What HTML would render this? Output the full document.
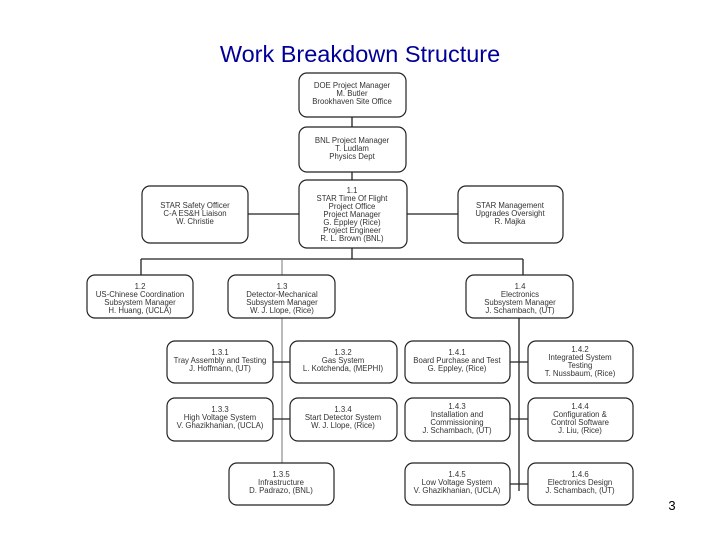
<!DOCTYPE html>
<html><head><meta charset="utf-8"><style>
html,body{margin:0;padding:0;background:#fff;}
svg{display:block;}
text{font-family:"Liberation Sans",sans-serif;}
.b{fill:#fff;stroke:#222;stroke-width:1.2;}
.l{stroke:#222;stroke-width:1.3;fill:none;}
.t{font-size:7.8px;fill:#333;text-anchor:middle;}
</style></head><body>
<svg width="720" height="540" viewBox="0 0 720 540">
<text x="360" y="62" style="font-size:23.5px;fill:#000099;text-anchor:middle">Work Breakdown Structure</text>
<text x="672" y="510" style="font-size:13px;fill:#000;text-anchor:middle">3</text>
<path class="l" d="M352 117V127M352 172V180M248 214H299M407 214H458M352 248V259M141 259H523M141 259V275M523 259V275"/>
<path class="l" style="stroke:#777;stroke-width:1" d="M282 259V275M282 318V463"/>
<path class="l" d="M273 362H290M273 419H290M519 318V491M510 362H528M510 419H528M510 484H528"/>
<g>
<rect class="b" x="299" y="73" width="107" height="44" rx="8"/>
<text class="t"><tspan x="352" y="88">DOE Project Manager</tspan><tspan x="352" y="96">M. Butler</tspan><tspan x="352" y="104">Brookhaven Site Office</tspan></text>
<rect class="b" x="299" y="127" width="107" height="45" rx="8"/>
<text class="t"><tspan x="352" y="143">BNL Project Manager</tspan><tspan x="352" y="151">T. Ludlam</tspan><tspan x="352" y="159">Physics Dept</tspan></text>
<rect class="b" x="299" y="180" width="108" height="68" rx="8"/>
<text class="t"><tspan x="352" y="193">1.1</tspan><tspan x="352" y="201">STAR Time Of Flight</tspan><tspan x="352" y="209">Project Office</tspan><tspan x="352" y="217">Project Manager</tspan><tspan x="352" y="225">G. Eppley (Rice)</tspan><tspan x="352" y="233">Project Engineer</tspan><tspan x="352" y="241">R. L. Brown (BNL)</tspan></text>
<rect class="b" x="142" y="186" width="106" height="57" rx="8"/>
<text class="t"><tspan x="195" y="208">STAR Safety Officer</tspan><tspan x="195" y="216">C-A ES&amp;H Liaison</tspan><tspan x="195" y="224">W. Christie</tspan></text>
<rect class="b" x="458" y="186" width="105" height="57" rx="8"/>
<text class="t"><tspan x="510" y="208">STAR Management</tspan><tspan x="510" y="216">Upgrades Oversight</tspan><tspan x="510" y="224">R. Majka</tspan></text>
<rect class="b" x="87" y="275" width="106" height="43" rx="8"/>
<text class="t"><tspan x="140" y="289">1.2</tspan><tspan x="140" y="297">US-Chinese Coordination</tspan><tspan x="140" y="305">Subsystem Manager</tspan><tspan x="140" y="313">H. Huang, (UCLA)</tspan></text>
<rect class="b" x="228" y="275" width="107" height="43" rx="8"/>
<text class="t"><tspan x="282" y="289">1.3</tspan><tspan x="282" y="297">Detector-Mechanical</tspan><tspan x="282" y="305">Subsystem Manager</tspan><tspan x="282" y="313">W. J. Llope, (Rice)</tspan></text>
<rect class="b" x="466" y="275" width="107" height="43" rx="8"/>
<text class="t"><tspan x="520" y="289">1.4</tspan><tspan x="520" y="297">Electronics</tspan><tspan x="520" y="305">Subsystem Manager</tspan><tspan x="520" y="313">J. Schambach, (UT)</tspan></text>

<rect class="b" x="167" y="341" width="106" height="42" rx="8"/>
<text class="t"><tspan x="220" y="355">1.3.1</tspan><tspan x="220" y="363">Tray Assembly and Testing</tspan><tspan x="220" y="371">J. Hoffmann, (UT)</tspan></text>
<rect class="b" x="290" y="341" width="107" height="42" rx="8"/>
<text class="t"><tspan x="343" y="355">1.3.2</tspan><tspan x="343" y="363">Gas System</tspan><tspan x="343" y="371">L. Kotchenda, (MEPHI)</tspan></text>
<rect class="b" x="405" y="341" width="105" height="42" rx="8"/>
<text class="t"><tspan x="457" y="355">1.4.1</tspan><tspan x="457" y="363">Board Purchase and Test</tspan><tspan x="457" y="371">G. Eppley, (Rice)</tspan></text>
<rect class="b" x="528" y="341" width="105" height="42" rx="8"/>
<text class="t"><tspan x="580" y="352">1.4.2</tspan><tspan x="580" y="360">Integrated System</tspan><tspan x="580" y="368">Testing</tspan><tspan x="580" y="376">T. Nussbaum, (Rice)</tspan></text>

<rect class="b" x="167" y="398" width="106" height="43" rx="8"/>
<text class="t"><tspan x="220" y="412">1.3.3</tspan><tspan x="220" y="420">High Voltage System</tspan><tspan x="220" y="428">V. Ghazikhanian, (UCLA)</tspan></text>
<rect class="b" x="290" y="398" width="107" height="43" rx="8"/>
<text class="t"><tspan x="343" y="412">1.3.4</tspan><tspan x="343" y="420">Start Detector System</tspan><tspan x="343" y="428">W. J. Llope, (Rice)</tspan></text>
<rect class="b" x="405" y="398" width="105" height="43" rx="8"/>
<text class="t"><tspan x="457" y="409">1.4.3</tspan><tspan x="457" y="417">Installation and</tspan><tspan x="457" y="425">Commissioning</tspan><tspan x="457" y="433">J. Schambach, (UT)</tspan></text>
<rect class="b" x="528" y="398" width="105" height="43" rx="8"/>
<text class="t"><tspan x="580" y="409">1.4.4</tspan><tspan x="580" y="417">Configuration &amp;</tspan><tspan x="580" y="425">Control Software</tspan><tspan x="580" y="433">J. Liu, (Rice)</tspan></text>

<rect class="b" x="229" y="463" width="105" height="42" rx="8"/>
<text class="t"><tspan x="281" y="477">1.3.5</tspan><tspan x="281" y="485">Infrastructure</tspan><tspan x="281" y="493">D. Padrazo, (BNL)</tspan></text>
<rect class="b" x="405" y="463" width="105" height="42" rx="8"/>
<text class="t"><tspan x="457" y="477">1.4.5</tspan><tspan x="457" y="485">Low Voltage System</tspan><tspan x="457" y="493">V. Ghazikhanian, (UCLA)</tspan></text>
<rect class="b" x="528" y="463" width="105" height="42" rx="8"/>
<text class="t"><tspan x="580" y="477">1.4.6</tspan><tspan x="580" y="485">Electronics Design</tspan><tspan x="580" y="493">J. Schambach, (UT)</tspan></text>
</g>
</svg>
</body></html>
